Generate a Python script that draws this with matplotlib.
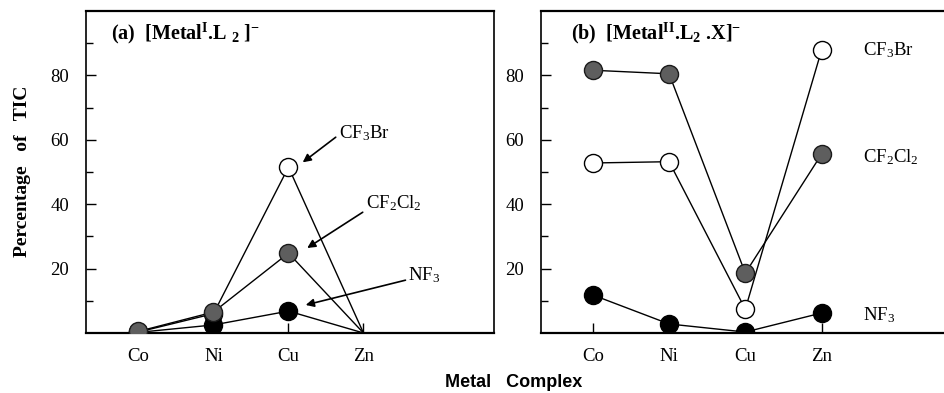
import matplotlib
matplotlib.use("Agg")
import matplotlib.pyplot as plt

metals = ["Co", "Ni", "Cu", "Zn"]

# Panel (a) [Metal(I).L2]-
a_cf3br = [0.3, 6.0, 51.5, 0.0]
a_cf2cl2 = [0.5, 6.5, 24.8, 0.0]
a_nf3 = [0.2, 2.5, 6.8, 0.0]

# Panel (b) [Metal(II).L2.X]-
b_cf3br = [52.8, 53.2, 7.4, 87.8]
b_cf2cl2 = [81.6, 80.5, 18.6, 55.5]
b_nf3 = [11.8, 2.8, 0.3, 6.2]

yticks = [20, 40, 60, 80]
minor_yticks = [10, 30, 50, 70, 90]

plt.rcParams['font.family'] = ['Liberation Serif', 'DejaVu Serif']
plt.rcParams['mathtext.fontset'] = 'custom'
plt.rcParams['mathtext.rm'] = 'Liberation Serif'
plt.rcParams['mathtext.it'] = 'Liberation Serif:italic'
plt.rcParams['mathtext.bf'] = 'Liberation Serif:bold'

fig = plt.figure(figsize=(9.45, 3.93), dpi=100)
axa = fig.add_axes([0.091, 0.1527, 0.4317, 0.8193])
axb = fig.add_axes([0.5725, 0.1527, 0.438, 0.8193])

x = list(range(len(metals)))
ms = 13
styles = {
    'open': dict(marker='o', markerfacecolor='white', markeredgecolor='black'),
    'shaded': dict(marker='o', markerfacecolor='#5e5e5e', markeredgecolor='#1a1a1a'),
    'filled': dict(marker='o', markerfacecolor='black', markeredgecolor='black'),
}

def draw(ax, br, cl, nf, mark):
    ax.plot(x, nf, color='black', lw=1.0, ms=ms, mew=1.0, zorder=3, markevery=mark, **styles['filled'])
    ax.plot(x, cl, color='black', lw=1.0, ms=ms, mew=1.0, zorder=4, markevery=mark, **styles['shaded'])
    ax.plot(x, br, color='black', lw=1.0, ms=ms, mew=1.0, zorder=2, markevery=mark, **styles['open'])
    ax.set_ylim(0, 100)
    ax.set_yticks(yticks)
    ax.set_yticks(minor_yticks, minor=True)
    ax.set_xticks(x)
    ax.set_xticklabels(metals)
    ax.tick_params(axis='x', which='major', direction='in', length=7, width=1, labelsize=13.5, pad=11)
    ax.tick_params(axis='y', which='major', direction='in', length=7, width=1, labelsize=13.5, pad=12)
    ax.tick_params(axis='y', which='minor', direction='in', length=5, width=1)
    for s in ax.spines.values():
        s.set_linewidth(1.2)
    ax.spines['bottom'].set_linewidth(1.6)
    ax.spines['top'].set_linewidth(1.6)

draw(axa, a_cf3br, a_cf2cl2, a_nf3, [0, 1, 2])
draw(axb, b_cf3br, b_cf2cl2, b_nf3, None)
axa.set_xlim(-0.7, 4.74)
axb.set_xlim(-0.68, 4.75)
axb.spines['right'].set_visible(False)

axa.text(-0.37, 93, r"(a)  [Metal$^{\mathbf{I}}$.L $_{\mathbf{2}}$ ]$^{\mathbf{-}}$", fontsize=14.5,
         fontweight='bold', ha='left', va='center')
axb.text(-0.29, 93, r"(b)  [Metal$^{\mathbf{II}}$.L$_{\mathbf{2}}$ .X]$^{\mathbf{-}}$", fontsize=14.5,
         fontweight='bold', ha='left', va='center')

arrowprops = dict(arrowstyle='-|>', color='black', lw=1.2, mutation_scale=12, shrinkA=0, shrinkB=0)
axa.annotate("", xy=(2.19, 53), xytext=(2.63, 60.8), arrowprops=arrowprops)
axa.text(2.67, 62, r"CF$_3$Br", fontsize=13.5, ha='left', va='center')
axa.annotate("", xy=(2.25, 26.4), xytext=(2.99, 37.5), arrowprops=arrowprops)
axa.text(3.03, 40.3, r"CF$_2$Cl$_2$", fontsize=13.5, ha='left', va='center')
axa.annotate("", xy=(2.23, 8.7), xytext=(3.56, 16.4), arrowprops=arrowprops)
axa.text(3.6, 18, r"NF$_3$", fontsize=13.5, ha='left', va='center')

axb.text(3.54, 87.8, r"CF$_3$Br", fontsize=13.5, ha='left', va='center')
axb.text(3.54, 54.6, r"CF$_2$Cl$_2$", fontsize=13.5, ha='left', va='center')
axb.text(3.54, 5.6, r"NF$_3$", fontsize=13.5, ha='left', va='center')

fig.text(0.024, 0.565, "Percentage   of   TIC", rotation=90, fontsize=14, fontweight='bold',
         ha='center', va='center')
fig.text(0.543, 0.006, "Metal   Complex", fontsize=13, fontweight='bold',
         family=['Liberation Sans', 'DejaVu Sans'], ha='center', va='bottom')

fig.savefig("out.png", dpi=100)
